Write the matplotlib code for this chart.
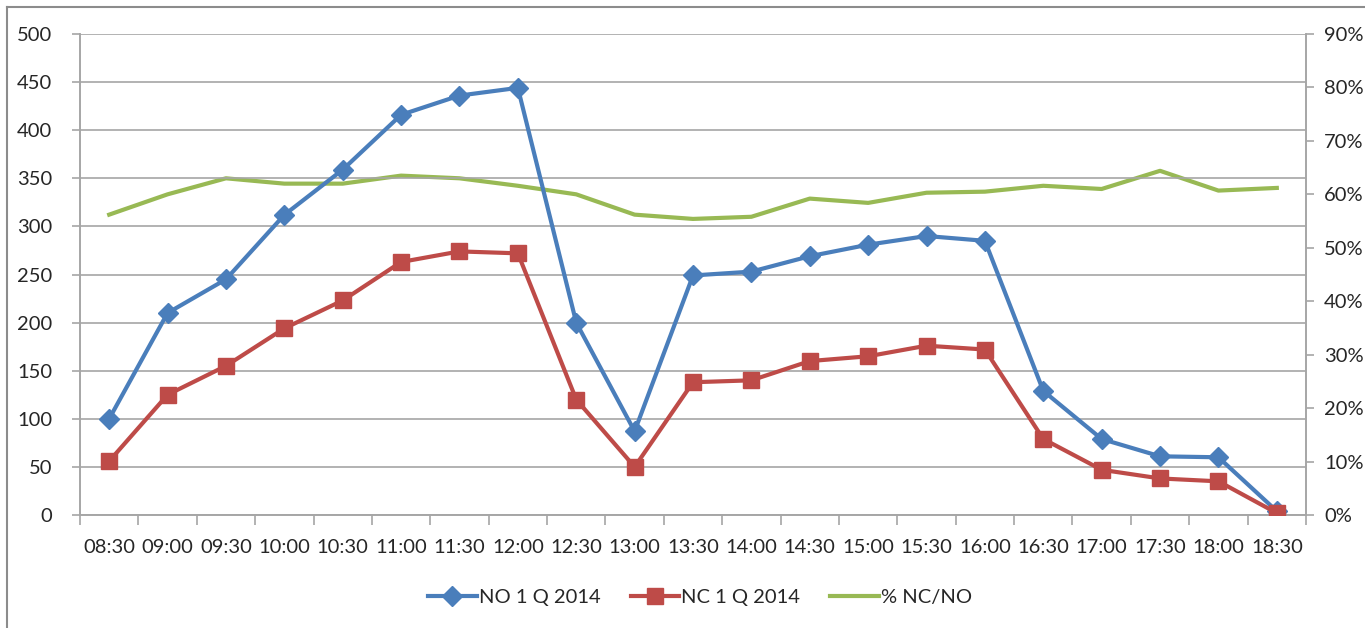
import matplotlib
matplotlib.use("Agg")
import matplotlib.pyplot as plt
from matplotlib.lines import Line2D
from matplotlib.ticker import FuncFormatter

# Datos
horas = ['08:30', '09:00', '09:30', '10:00', '10:30', '11:00', '11:30', '12:00', '12:30', '13:00', '13:30',
         '14:00', '14:30', '15:00', '15:30', '16:00', '16:30', '17:00', '17:30', '18:00', '18:30']
no_2014 = [100, 210, 245, 312, 359, 416, 436, 444, 200, 87, 249,
           253, 269, 281, 290, 285, 129, 79, 61, 60, 4]
nc_2014 = [56, 125, 155, 194, 223, 263, 274, 272, 120, 50, 138,
           140, 160, 165, 176, 172, 79, 47, 38, 35, 2]
pct_nc_no = [0.562, 0.600, 0.630, 0.620, 0.620, 0.635, 0.630, 0.616, 0.600, 0.562, 0.554,
             0.558, 0.592, 0.584, 0.603, 0.605, 0.616, 0.610, 0.644, 0.607, 0.612]

AZUL = '#4A7EBB'
ROJO = '#BE4B48'
VERDE = '#98B954'
GRIS = '#A6A6A6'

plt.rcParams['font.family'] = ['Lato', 'DejaVu Sans']
plt.rcParams['font.size'] = 14.5
plt.rcParams['text.color'] = '#262626'
plt.rcParams['xtick.labelcolor'] = '#262626'
plt.rcParams['ytick.labelcolor'] = '#262626'

fig = plt.figure(figsize=(13.65, 6.28), dpi=100)
ax = fig.add_axes([80 / 1365, 1 - 515 / 628, (1306 - 80) / 1365, (515 - 34) / 628])
ax2 = ax.twinx()

x = list(range(len(horas)))

ax.plot(x, no_2014, color=AZUL, lw=3, marker='D', ms=10, label='NO 1 Q 2014', zorder=3)
ax.plot(x, nc_2014, color=ROJO, lw=3, marker='s', ms=12, label='NC 1 Q 2014', zorder=3)
ax2.plot(x, pct_nc_no, color=VERDE, lw=3, label='% NC/NO', zorder=2)

# Ejes
ax.set_xlim(-0.5, len(horas) - 0.5)
ax.set_ylim(0, 500)
ax.set_yticks(range(0, 501, 50))
ax2.set_ylim(0, 0.9)
ax2.set_yticks([i / 10 for i in range(10)])
ax2.yaxis.set_major_formatter(FuncFormatter(lambda v, p: f'{v * 100:.0f}%'))

ax.set_xticks(x)
ax.set_xticklabels(horas)
ax.set_xticks([i - 0.5 for i in range(len(horas) + 1)], minor=True)
ax.tick_params(axis='x', which='major', length=0, pad=17)
ax.tick_params(axis='x', which='minor', length=7, color=GRIS, width=1.2)
ax.tick_params(axis='y', length=6, color=GRIS, width=1.2, pad=14)
ax2.tick_params(axis='y', length=6, color=GRIS, width=1.2, pad=7)

ax.grid(axis='y', color=GRIS, lw=1.2)
ax.set_axisbelow(True)
for a in (ax, ax2):
    a.spines['top'].set_visible(False)
    for s in ('left', 'right', 'bottom'):
        a.spines[s].set_color(GRIS)
        a.spines[s].set_linewidth(1.2)
ax.set_zorder(ax2.get_zorder() + 1)
ax.patch.set_visible(False)

# Leyenda
h1, l1 = ax.get_legend_handles_labels()
h2, l2 = ax2.get_legend_handles_labels()
fig.legend(h1 + h2, l1 + l2, loc='center', bbox_to_anchor=(700 / 1365, 1 - 597 / 628), ncol=3,
           frameon=False, handlelength=2.4, columnspacing=1.5, handletextpad=0.1, fontsize=14.5)

# Marco del gráfico
fig.add_artist(Line2D([7 / 1365, 1], [1 - 7 / 628, 1 - 7 / 628], color='#8C8C8C', lw=1.5))
fig.add_artist(Line2D([7 / 1365, 7 / 1365], [0, 1 - 7 / 628], color='#8C8C8C', lw=1.5))

fig.savefig('out.png', dpi=100, facecolor='white')
